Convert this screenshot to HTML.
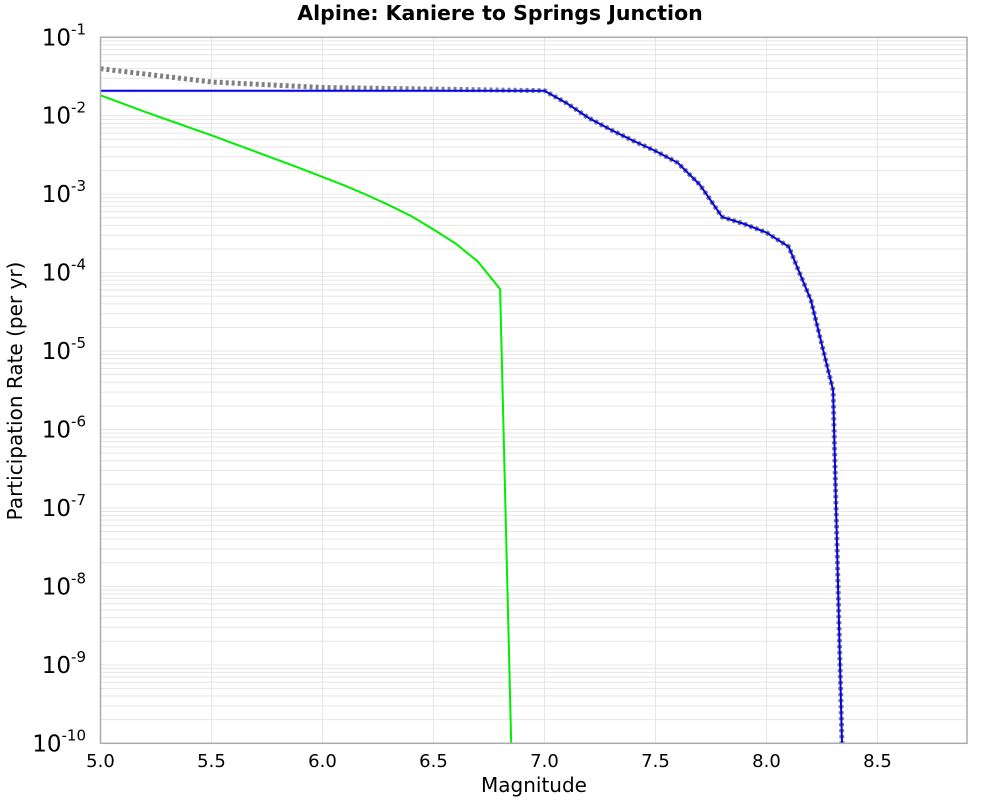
<!DOCTYPE html>
<html><head><meta charset="utf-8"><style>
body{margin:0;background:#fff;}
svg{display:block;font-family:"DejaVu Sans","Liberation Sans",sans-serif;}
</style></head><body>
<svg id="chart" width="1000" height="800" xmlns="http://www.w3.org/2000/svg">
<text x="500" y="20" text-anchor="middle" font-size="20.5" font-weight="bold">Alpine: Kaniere to Springs Junction</text>
<text transform="translate(22,391) rotate(-90)" text-anchor="middle" font-size="20">Participation Rate (per yr)</text>
<text x="534" y="792" text-anchor="middle" font-size="20">Magnitude</text>
<g id="grid"></g>
<g id="series"></g>
<rect x="100.5" y="37.3" width="866.5" height="706" fill="none" stroke="#aaa" stroke-width="1.5"/>
<g id="ticks"></g>
</svg>
<script>
const xTicks = [5.0, 5.5, 6.0, 6.5, 7.0, 7.5, 8.0, 8.5];
const yDecades = [-1, -2, -3, -4, -5, -6, -7, -8, -9, -10];
const grayMags = [5.0, 5.5, 6.0, 6.5, 7.0, 7.1, 7.2, 7.3, 7.4, 7.5, 7.6, 7.7, 7.8, 7.9, 8.0, 8.1, 8.2, 8.3, 8.34];
const grayLog = [-1.40, -1.57, -1.64, -1.66, -1.681, -1.84, -2.03, -2.18, -2.32, -2.45, -2.60, -2.88, -3.29, -3.38, -3.49, -3.67, -4.35, -5.50, -10];
const blueMags = [5.0, 7.0, 7.1, 7.2, 7.3, 7.4, 7.5, 7.6, 7.7, 7.8, 7.9, 8.0, 8.1, 8.2, 8.3, 8.34];
const blueLog = [-1.681, -1.681, -1.84, -2.03, -2.18, -2.32, -2.45, -2.60, -2.88, -3.29, -3.38, -3.49, -3.67, -4.35, -5.50, -10];
const greenMags = [5.0, 5.1, 5.2, 5.3, 5.4, 5.5, 5.6, 5.7, 5.8, 5.9, 6.0, 6.1, 6.2, 6.3, 6.4, 6.5, 6.6, 6.7, 6.8, 6.85];
const greenLog = [-1.74, -1.845, -1.95, -2.05, -2.15, -2.25, -2.355, -2.46, -2.565, -2.67, -2.78, -2.89, -3.01, -3.14, -3.28, -3.45, -3.63, -3.86, -4.21, -10];

const NS = "http://www.w3.org/2000/svg";
const X0 = 100.5, XPU = 222, YTOP = 37.3, DEC = 78.44;
function xs(m){ return X0 + (m - 5) * XPU; }
function ys(l){ return YTOP + (-1 - l) * DEC; }
function mk(tag, attrs, parent){ const e = document.createElementNS(NS, tag); for (const k in attrs) e.setAttribute(k, attrs[k]); parent.appendChild(e); return e; }

const grid = document.getElementById('grid');
for (let d = -10; d < -1; d++) {
  for (let k = 1; k <= 9; k++) {
    const y = ys(d + Math.log10(k));
    const ln = mk('line', {x1: X0, x2: 967, y1: y, y2: y, stroke: '#e6e6e6', 'stroke-width': 1}, grid);
    
    
  }
}
xTicks.forEach(t => {
  const ln = mk('line', {x1: xs(t), x2: xs(t), y1: YTOP, y2: 743.3, stroke: '#e6e6e6', 'stroke-width': 1}, grid);
  
  
});

const ticks = document.getElementById('ticks');
xTicks.forEach(t => {
  const tx = mk('text', {x: xs(t), y: 767, 'text-anchor': 'middle', 'font-size': 18}, ticks);
  tx.textContent = t.toFixed(1);
  
  
});
yDecades.forEach(d => {
  const tx = mk('text', {x: 86, y: ys(d) + 8, 'text-anchor': 'end', 'font-size': 23}, ticks);
  
  
  const b = document.createElementNS(NS, 'tspan'); b.textContent = '10'; tx.appendChild(b);
  const s = document.createElementNS(NS, 'tspan'); s.setAttribute('dy', '-11'); s.setAttribute('font-size', '15'); s.textContent = String(d); tx.appendChild(s);
});

const series = document.getElementById('series');
function pts(ms, ls){ return ms.map((m, i) => xs(m).toFixed(1) + ',' + ys(ls[i]).toFixed(1)).join(' '); }
const g = mk('polyline', {points: pts(grayMags, grayLog), fill: 'none', stroke: '#808080', 'stroke-width': 5, 'stroke-dasharray': '3,3'}, series);


const gr = mk('polyline', {points: pts(greenMags, greenLog), fill: 'none', stroke: '#00ee00', 'stroke-width': 2}, series);


const bl = mk('polyline', {points: pts(blueMags, blueLog), fill: 'none', stroke: '#0000ee', 'stroke-width': 2}, series);


</script>
</body></html>
